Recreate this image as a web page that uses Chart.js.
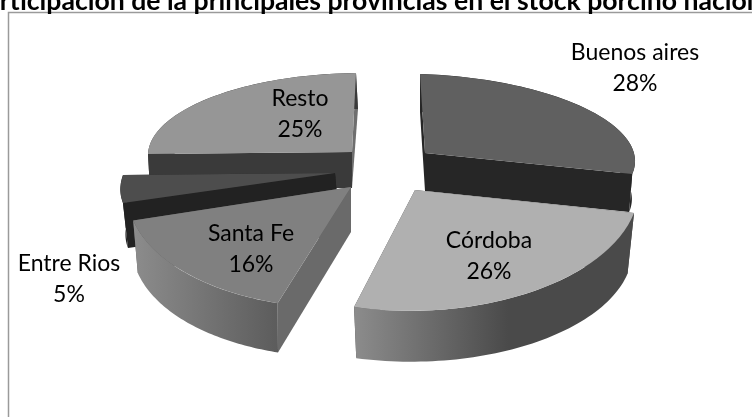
<!DOCTYPE html>
<html>
<head>
<meta charset="utf-8">
<script src="https://cdn.jsdelivr.net/npm/chart.js@4"></script>
<style>
html,body{margin:0;padding:0;background:#fff;overflow:hidden}
canvas{display:block}
</style>
</head>
<body>
<canvas id="c" width="752" height="417"></canvas>
<script>
const chartTitle = 'Participación de la principales provincias en el stock porcino nacional';
const categories = ['Buenos aires', 'Córdoba', 'Santa Fe', 'Entre Rios', 'Resto'];
const shares = [28, 26, 16, 5, 25];

const topColors = ['#606060', '#b0b0b0', '#808080', '#4d4d4d', '#969696'];
const wallStops = [
  [[0, '#262626'], [1, '#262626']],
  [[0, '#8c8c8c'], [0.55, '#4a4a4a'], [1, '#4a4a4a']],
  [[0, '#8c8c8c'], [1, '#5c5c5c']],
  [[0, '#222222'], [1, '#222222']],
  [[0, '#3a3a3a'], [1, '#3a3a3a']]
];
const startFaceColors = ['#262626', '#4a4a4a', '#6a6a6a', '#222222', '#3a3a3a'];
const endFaceColors = ['#262626', '#4a4a4a', '#5c5c5c', '#222222', '#6e6e6e'];

/* Exploded perspective view: one projection of the flat pie per slice. */
const sliceViews = [
  { apex: [425, 153], a: [210, 6.3], b: [-5, -79],    apexDrop: [0, 38],  drop: [0, 38],  sx: 0.985, sy: 1 },
  { apex: [415, 190], a: [224, 0.4], b: [5.4, -120.8], apexDrop: [0, 50], drop: [0, 63],  sx: 0.97, sy: 0.9 },
  { apex: [351, 187], a: [223, 4.2], b: [18.5, -121], apexDrop: [0, 45], drop: [-2, 54], sx: 0.97, sy: 0.96 },
  { apex: [335, 173], a: [212, -2],  b: [33.7, -91],   apexDrop: [4, 45], drop: [3, 45],  sx: 0.99, sy: 1 },
  { apex: [352, 152], a: [204, -2],  b: [4, -79],      apexDrop: [0, 36], drop: [2, 36],  sx: 1, sy: 1 }
];
const labelCenters = [[635, 53], [489, 241], [251, 234], [69, 264], [300, 99]];
const labelLineGap = 30.5;
const paintOrder = [4, 0, 3, 2, 1];

const frameAndPie = {
  id: 'frameAndPie',
  beforeDraw(chart) {
    const ctx = chart.ctx;
    ctx.save();
    ctx.strokeStyle = '#9a9a9a';
    ctx.lineWidth = 1.5;
    ctx.beginPath();
    ctx.moveTo(8.5, 417);
    ctx.lineTo(8.5, 12.5);
    ctx.lineTo(752, 12.5);
    ctx.stroke();
    /* the title overflows the picture on both sides, as in the original */
    ctx.fillStyle = '#000';
    ctx.font = 'bold 26.6px Lato';
    ctx.textAlign = 'center';
    ctx.textBaseline = 'alphabetic';
    ctx.fillText(chartTitle, 376, 9.5);
    ctx.restore();
  },
  beforeDatasetDraw() { return false; },
  afterDatasetsDraw(chart) {
    const ctx = chart.ctx;
    const arcs = chart.getDatasetMeta(0).data;
    paintOrder.forEach(i => {
      const el = arcs[i], v = sliceViews[i];
      const t0 = el.startAngle + Math.PI / 2, t1 = el.endAngle + Math.PI / 2;
      const top = t => [
        v.apex[0] + Math.sin(t) * v.a[0] + Math.cos(t) * v.b[0],
        v.apex[1] + Math.sin(t) * v.a[1] + Math.cos(t) * v.b[1]
      ];
      const bot = t => [
        v.apex[0] + v.drop[0] + v.sx * Math.sin(t) * v.a[0] + v.sy * Math.cos(t) * v.b[0],
        v.apex[1] + v.drop[1] + v.sx * Math.sin(t) * v.a[1] + v.sy * Math.cos(t) * v.b[1]
      ];
      const apexLow = [v.apex[0] + v.apexDrop[0], v.apex[1] + v.apexDrop[1]];
      const N = 60;
      const topPts = [], botPts = [];
      for (let k = 0; k <= N; k++) {
        const t = t0 + (t1 - t0) * k / N;
        topPts.push(top(t));
        botPts.push(bot(t));
      }
      const poly = (pts, fill) => {
        ctx.beginPath();
        pts.forEach((p, k) => k ? ctx.lineTo(p[0], p[1]) : ctx.moveTo(p[0], p[1]));
        ctx.closePath();
        ctx.fillStyle = fill;
        ctx.fill();
      };
      poly([top(t1), v.apex, apexLow, bot(t1)], endFaceColors[i]);
      poly([top(t0), v.apex, apexLow, bot(t0)], startFaceColors[i]);
      const xs = topPts.concat(botPts).map(p => p[0]);
      const grad = ctx.createLinearGradient(Math.min(...xs), 0, Math.max(...xs), 0);
      wallStops[i].forEach(s => grad.addColorStop(s[0], s[1]));
      poly(topPts.concat(botPts.slice().reverse()), grad);

      /* top face: the library's own arc element, seen through the slice's view */
      const R = el.outerRadius;
      ctx.save();
      ctx.transform(v.a[0] / R, v.a[1] / R, -v.b[0] / R, -v.b[1] / R, v.apex[0], v.apex[1]);
      ctx.translate(-el.x, -el.y);
      el.draw(ctx);
      ctx.restore();
    });

    ctx.save();
    ctx.fillStyle = '#000';
    ctx.font = '23px Lato';
    ctx.textAlign = 'center';
    ctx.textBaseline = 'middle';
    categories.forEach((name, i) => {
      const c = labelCenters[i];
      ctx.fillText(name, c[0], c[1]);
      ctx.fillText(shares[i] + '%', c[0], c[1] + labelLineGap);
    });
    ctx.restore();
  }
};

new Chart(document.getElementById('c'), {
  type: 'pie',
  data: {
    labels: categories,
    datasets: [{ data: shares, backgroundColor: topColors, borderWidth: 0, offset: 0 }]
  },
  options: {
    responsive: false,
    animation: false,
    plugins: {
      legend: { display: false },
      tooltip: { enabled: false },
      title: { display: false }
    }
  },
  plugins: [frameAndPie]
});
</script>
</body>
</html>
